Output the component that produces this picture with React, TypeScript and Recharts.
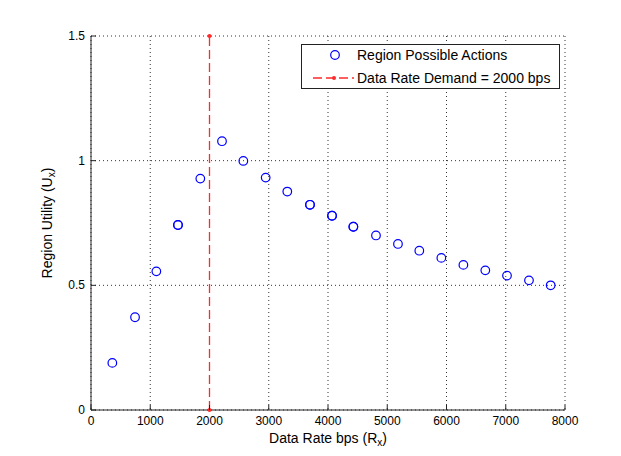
import {
  ScatterChart,
  Scatter,
  XAxis,
  YAxis,
  CartesianGrid,
  Legend,
} from 'recharts'

// values
const rateX = [
  360, 743, 1103, 1468, 1845, 2211, 2571, 2948, 3313, 3696, 4068, 4428, 4810,
  5181, 5541, 5913, 6285, 6655, 7021, 7392, 7758,
]
const utility = [
  0.189, 0.372, 0.556, 0.742, 0.928, 1.078, 0.999, 0.932, 0.876, 0.823, 0.779,
  0.735, 0.7, 0.666, 0.639, 0.61, 0.582, 0.56, 0.539, 0.52, 0.5,
]
// these actions show up twice in the figure (drawn over each other)
const repeated = [3, 9, 10, 11]

const demandRate = 2000
const demandSpan = [0, 1.5]

const xTicks = [0, 1000, 2000, 3000, 4000, 5000, 6000, 7000, 8000]
const yTicks = [0, 0.5, 1, 1.5]

const font = '"Liberation Sans", Arial, Helvetica, sans-serif'
const frame = '#222'
const blue = '#0000ff'
const red = '#ff2a2a'

const actions = [
  ...rateX.map((x, i) => ({ x, y: utility[i] })),
  ...repeated.map((i) => ({ x: rateX[i], y: utility[i] })),
]
const demand = demandSpan.map((y) => ({ x: demandRate, y }))
// the demand line hides the grid line under it
const gridX = xTicks.filter((t) => t !== demandRate)

const BottomTick = (props: any) => {
  const { x, y, payload } = props
  return (
    <g>
      <line x1={x} x2={x} y1={y} y2={y - 5} stroke={frame} />
      <text x={x} y={y + 15} textAnchor="middle" fontSize={12} fontFamily={font} fill="#000">
        {payload.value}
      </text>
    </g>
  )
}

const TopTick = (props: any) => {
  const { x, y } = props
  return <line x1={x} x2={x} y1={y} y2={y + 5} stroke={frame} />
}

const LeftTick = (props: any) => {
  const { x, y, payload } = props
  return (
    <g>
      <line x1={x} x2={x + 5} y1={y} y2={y} stroke={frame} />
      <text x={x - 6} y={y + 4} textAnchor="end" fontSize={12} fontFamily={font} fill="#000">
        {payload.value}
      </text>
    </g>
  )
}

const RightTick = (props: any) => {
  const { x, y } = props
  return <line x1={x} x2={x - 5} y1={y} y2={y} stroke={frame} />
}

const Ring = (props: any) => (
  <circle cx={props.cx} cy={props.cy} r={4.3} fill="none" stroke={blue} strokeWidth={1.2} />
)

const RedDot = (props: any) => <circle cx={props.cx} cy={props.cy} r={2} fill={red} />

const DemandLine = (props: any) => {
  const pts = props.points || []
  if (pts.length < 2) return null
  return (
    <line
      x1={pts[0].cx ?? pts[0].x}
      y1={pts[0].cy ?? pts[0].y}
      x2={pts[1].cx ?? pts[1].x}
      y2={pts[1].cy ?? pts[1].y}
      stroke={red}
      strokeWidth={1.3}
      strokeDasharray="9 4"
    />
  )
}

const LegendBox = () => (
  <svg width={259} height={45} style={{ display: 'block' }}>
    <rect x={0.5} y={0.5} width={258} height={44} fill="#fff" stroke={frame} />
    <circle cx={34} cy={11} r={4.3} fill="none" stroke={blue} strokeWidth={1.2} />
    <text x={56} y={16} fontSize={14} fontFamily={font} fill="#000">
      Region Possible Actions
    </text>
    <line x1={12} x2={53} y1={34} y2={34} stroke={red} strokeWidth={1.3} strokeDasharray="9 4" />
    <circle cx={33} cy={34} r={2} fill={red} />
    <text x={56} y={39} fontSize={14} fontFamily={font} fill="#000">
      Data Rate Demand = 2000 bps
    </text>
  </svg>
)

const XLabel = (props: any) => {
  const vb = props.viewBox
  const cx = vb.x + vb.width / 2
  return (
    <text x={cx} y={443} textAnchor="middle" fontSize={14} fontFamily={font} fill="#000">
      Data Rate bps (R
      <tspan fontSize={10} dy={3}>x</tspan>
      <tspan dy={-3}>)</tspan>
    </text>
  )
}

const YLabel = (props: any) => {
  const vb = props.viewBox
  const cy = vb.y + vb.height / 2
  return (
    <text
      x={52}
      y={cy}
      transform={`rotate(-90, 52, ${cy})`}
      textAnchor="middle"
      fontSize={14}
      fontFamily={font}
      fill="#000"
    >
      Region Utility (U
      <tspan fontSize={10} dy={3}>x</tspan>
      <tspan dy={-3}>)</tspan>
    </text>
  )
}

const App = () => {
  return (
    <div style={{ position: 'absolute', left: 0, top: 0, width: 621, height: 456, background: '#fff' }}>
      <ScatterChart width={621} height={456} margin={{ top: 36, right: 56, bottom: 0, left: 51 }}>
        <CartesianGrid stroke="#333" strokeDasharray="1 3" horizontalValues={yTicks} verticalValues={gridX} />
        <XAxis
          type="number"
          dataKey="x"
          domain={[0, 8000]}
          ticks={xTicks}
          height={46}
          tickSize={0}
          tickMargin={0}
          tickLine={false}
          stroke={frame}
          tick={<BottomTick />}
          label={{ content: <XLabel /> }}
        />
        <XAxis
          xAxisId="top"
          orientation="top"
          type="number"
          dataKey="x"
          domain={[0, 8000]}
          ticks={xTicks}
          height={0}
          tickSize={0}
          tickMargin={0}
          tickLine={false}
          stroke={frame}
          tick={<TopTick />}
        />
        <YAxis
          type="number"
          dataKey="y"
          domain={[0, 1.5]}
          ticks={yTicks}
          width={40}
          tickSize={0}
          tickMargin={0}
          tickLine={false}
          stroke={frame}
          tick={<LeftTick />}
          label={{ content: <YLabel /> }}
        />
        <YAxis
          yAxisId="right"
          orientation="right"
          type="number"
          dataKey="y"
          domain={[0, 1.5]}
          ticks={yTicks}
          width={0}
          tickSize={0}
          tickMargin={0}
          tickLine={false}
          stroke={frame}
          tick={<RightTick />}
        />
        <Legend
          layout="horizontal"
          verticalAlign="middle"
          align="center"
          content={<LegendBox />}
          wrapperStyle={{ position: 'absolute', top: 44, left: 301, width: 259 }}
        />
        <Scatter
          name="Data Rate Demand = 2000 bps"
          data={demand}
          fill={red}
          stroke={red}
          line={DemandLine}
          shape={<RedDot />}
          isAnimationActive={false}
        />
        <Scatter name="Region Possible Actions" data={actions} shape={<Ring />} isAnimationActive={false} />
      </ScatterChart>
    </div>
  )
}

export default App
